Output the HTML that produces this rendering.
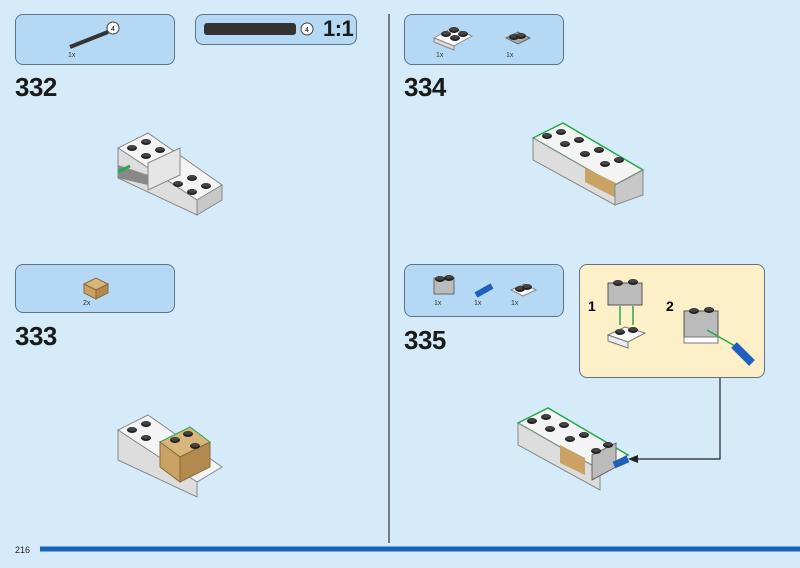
<!DOCTYPE html>
<html><head><meta charset="utf-8"><style>
html,body{margin:0;padding:0}
body{width:800px;height:568px;background:#d5ebfa;position:relative;overflow:hidden;font-family:"Liberation Sans",sans-serif}
.p{position:absolute;background:#b5d9f4;border:1.5px solid #5f7384;border-radius:8px;box-sizing:border-box}
.n{position:absolute;font-weight:bold;font-size:26px;color:#1a1a1a;letter-spacing:-0.5px}
.q{position:absolute;font-size:7px;color:#333}
</style></head><body>
<div class="p" style="left:15px;top:14px;width:160px;height:51px"></div>
<div class="p" style="left:195px;top:14px;width:162px;height:31px"></div>
<div class="p" style="left:404px;top:14px;width:160px;height:51px"></div>
<div class="p" style="left:15px;top:264px;width:160px;height:49px"></div>
<div class="p" style="left:404px;top:264px;width:160px;height:53px"></div>
<div class="p" style="left:579px;top:264px;width:186px;height:114px;background:#fdf0c8"></div>
<div class="n" style="left:15px;top:72px">332</div>
<div class="n" style="left:15px;top:321px">333</div>
<div class="n" style="left:404px;top:72px">334</div>
<div class="n" style="left:404px;top:325px">335</div>
<div class="n" style="left:323px;top:16px;font-size:22px">1:1</div>
<div class="q" style="left:68px;top:52px">1x</div>
<div class="q" style="left:83px;top:300px">2x</div>
<div class="q" style="left:436px;top:52px">1x</div>
<div class="q" style="left:506px;top:52px">1x</div>
<div class="q" style="left:434px;top:300px">1x</div>
<div class="q" style="left:474px;top:300px">1x</div>
<div class="q" style="left:511px;top:300px">1x</div>
<div style="position:absolute;left:588px;top:298px;font-weight:bold;font-size:14px">1</div>
<div style="position:absolute;left:666px;top:298px;font-weight:bold;font-size:14px">2</div>
<div style="position:absolute;left:15px;top:545px;font-size:9px;color:#222">216</div>
<svg width="800" height="568" style="position:absolute;left:0;top:0">
<defs>
<g id="stud"><ellipse cx="0" cy="0" rx="5" ry="3" fill="#222"/><ellipse cx="0" cy="-1" rx="4" ry="2" fill="#444"/></g>
</defs>
<line x1="389" y1="14" x2="389" y2="543" stroke="#333" stroke-width="1.2"/>
<line x1="40" y1="549" x2="800" y2="549" stroke="#1763b5" stroke-width="5"/>
<!-- axle parts -->
<line x1="70" y1="47" x2="108" y2="32" stroke="#333" stroke-width="4"/>
<circle cx="113" cy="28" r="6" fill="#fff" stroke="#444"/><text x="113" y="31" font-size="7" text-anchor="middle">4</text>
<rect x="204" y="23" width="92" height="12" rx="3" fill="#333"/>
<circle cx="307" cy="29" r="6" fill="#fff" stroke="#444"/><text x="307" y="32" font-size="7" text-anchor="middle">4</text>
<!-- small parts 334 -->
<polygon points="434,38 452,28 472,36 454,46" fill="#fff" stroke="#888"/><polygon points="434,38 454,46 454,50 434,42" fill="#ddd" stroke="#888"/>
<use href="#stud" x="446" y="34"/><use href="#stud" x="455" y="38"/><use href="#stud" x="454" y="30"/><use href="#stud" x="463" y="34"/>
<polygon points="506,38 518,32 530,38 518,44" fill="#aaa" stroke="#666"/><use href="#stud" x="514" y="37"/><use href="#stud" x="521" y="36"/>
<!-- 333 part -->
<polygon points="84,284 96,278 108,284 96,290" fill="#d8b57a" stroke="#8a6a3a"/><polygon points="84,284 96,290 96,299 84,293" fill="#c9a264" stroke="#8a6a3a"/><polygon points="96,290 108,284 108,293 96,299" fill="#b38a4e" stroke="#8a6a3a"/>
<!-- 335 parts -->
<rect x="434" y="278" width="20" height="16" fill="#bbb" stroke="#666"/><use href="#stud" x="440" y="279"/><use href="#stud" x="449" y="278"/>
<line x1="476" y1="295" x2="492" y2="286" stroke="#1e5fbf" stroke-width="6"/>
<polygon points="511,290 524,284 536,290 523,296" fill="#fff" stroke="#888"/><use href="#stud" x="520" y="289"/><use href="#stud" x="527" y="287"/>
<!-- callout contents -->
<rect x="608" y="283" width="34" height="22" fill="#bbb" stroke="#555"/><use href="#stud" x="618" y="283"/><use href="#stud" x="633" y="282"/>
<line x1="620" y1="306" x2="620" y2="325" stroke="#27a84a" stroke-width="1.5"/><line x1="633" y1="306" x2="633" y2="325" stroke="#27a84a" stroke-width="1.5"/>
<polygon points="608,335 625,327 645,333 628,342" fill="#fff" stroke="#777"/><polygon points="608,335 628,342 628,348 608,341" fill="#eee" stroke="#777"/>
<use href="#stud" x="620" y="332"/><use href="#stud" x="633" y="330"/>
<rect x="684" y="311" width="34" height="26" fill="#bbb" stroke="#555"/><rect x="684" y="337" width="34" height="6" fill="#fff" stroke="#777"/>
<use href="#stud" x="694" y="311"/><use href="#stud" x="709" y="310"/>
<line x1="707" y1="330" x2="735" y2="346" stroke="#27a84a" stroke-width="1.5"/>
<line x1="734" y1="345" x2="752" y2="363" stroke="#1e5fbf" stroke-width="8"/>
<polyline points="720,378 720,459 630,459" fill="none" stroke="#222" stroke-width="1.2"/><polygon points="628,459 638,455 638,463" fill="#222"/>
<!-- model generic -->
<g id="m332">
<polygon points="118,148 148,133 222,185 197,200" fill="#f4f4f4" stroke="#888"/>
<polygon points="118,148 197,200 197,215 118,178" fill="#ddd" stroke="#888"/>
<polygon points="197,200 222,185 222,200 197,215" fill="#c8c8c8" stroke="#888"/>
<polygon points="148,163 180,148 180,175 148,190" fill="#e6e6e6" stroke="#888"/>
<polygon points="118,165 148,175 148,185 118,178" fill="#888"/>
<use href="#stud" x="132" y="148"/><use href="#stud" x="146" y="142"/><use href="#stud" x="146" y="156"/><use href="#stud" x="160" y="150"/>
<use href="#stud" x="178" y="184"/><use href="#stud" x="192" y="178"/><use href="#stud" x="192" y="192"/><use href="#stud" x="206" y="186"/>
</g>
<path d="M118 172 l12 -6" stroke="#27a84a" stroke-width="3"/>
<g transform="translate(0,282)">
<polygon points="118,148 148,133 222,185 197,200" fill="#f4f4f4" stroke="#888"/>
<polygon points="118,148 197,200 197,215 118,178" fill="#ddd" stroke="#888"/>
<polygon points="160,160 190,145 210,160 180,175" fill="#d8b57a" stroke="#27a84a"/>
<polygon points="160,160 180,175 180,200 160,185" fill="#c9a264" stroke="#8a6a3a"/>
<polygon points="180,175 210,160 210,185 180,200" fill="#b38a4e" stroke="#8a6a3a"/>
<use href="#stud" x="132" y="148"/><use href="#stud" x="146" y="142"/><use href="#stud" x="146" y="156"/>
<use href="#stud" x="175" y="158"/><use href="#stud" x="188" y="152"/><use href="#stud" x="195" y="164"/>
</g>
<g transform="translate(415,-10)">
<polygon points="118,148 148,133 228,180 200,195" fill="#f4f4f4" stroke="#27a84a" stroke-width="1.5"/>
<polygon points="118,148 200,195 200,215 118,170" fill="#ddd" stroke="#888"/>
<polygon points="170,178 205,195 205,210 170,192" fill="#c9a264"/>
<polygon points="200,195 228,180 228,205 200,215" fill="#c8c8c8" stroke="#888"/>
<use href="#stud" x="132" y="146"/><use href="#stud" x="146" y="142"/><use href="#stud" x="150" y="154"/><use href="#stud" x="164" y="150"/><use href="#stud" x="170" y="164"/><use href="#stud" x="184" y="160"/><use href="#stud" x="190" y="174"/><use href="#stud" x="204" y="170"/>
</g>
<g transform="translate(400,275)">
<polygon points="118,148 148,133 228,180 200,195" fill="#f4f4f4" stroke="#27a84a" stroke-width="1.5"/>
<polygon points="118,148 200,195 200,215 118,170" fill="#ddd" stroke="#888"/>
<polygon points="160,170 185,183 185,200 160,188" fill="#c9a264"/>
<polygon points="192,180 216,168 216,192 192,205" fill="#bbb" stroke="#666"/>
<line x1="214" y1="190" x2="228" y2="184" stroke="#1e5fbf" stroke-width="7"/>
<use href="#stud" x="132" y="146"/><use href="#stud" x="146" y="142"/><use href="#stud" x="150" y="154"/><use href="#stud" x="164" y="150"/><use href="#stud" x="170" y="164"/><use href="#stud" x="184" y="160"/><use href="#stud" x="196" y="176"/><use href="#stud" x="208" y="170"/>
</g>
</svg>
</body></html>
